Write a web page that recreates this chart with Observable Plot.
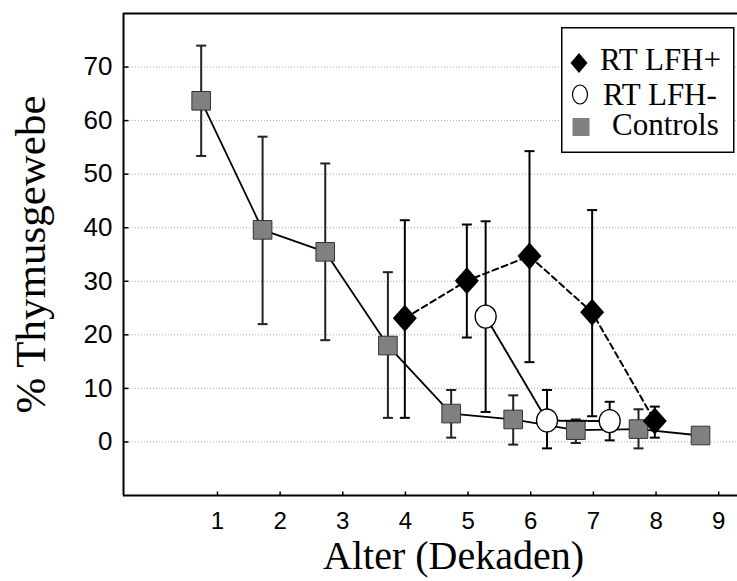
<!DOCTYPE html>
<html><head><meta charset="utf-8">
<script src="https://cdn.jsdelivr.net/npm/d3@7"></script>
<script src="https://cdn.jsdelivr.net/npm/@observablehq/plot@0.6"></script>
<style>
body{margin:0;background:#fff;}
#wrap{position:relative;width:737px;height:581px;overflow:hidden;}
#legend{position:absolute;left:561px;top:27px;}
</style></head><body><div id="wrap"></div>
<script>
// ---- data ----
const xTicks = [1, 2, 3, 4, 5, 6, 7, 8, 9];
const yTicks = [0, 10, 20, 30, 40, 50, 60, 70];
const xDomain = [-0.5, 9.3];
const yDomain = [-10, 80];
const xLabel = "Alter (Dekaden)";
const yLabel = "% Thymusgewebe";
const seriesNames = ["RT LFH+", "RT LFH-", "Controls"];

const ctrlX  = [0.74, 1.72, 2.72, 3.72, 4.73, 5.72, 6.72, 7.72, 8.71];
const ctrlY  = [63.7, 39.6, 35.5, 18.0, 5.3, 4.2, 2.2, 2.4, 1.2];
const ctrlHi = [74.0, 57.0, 52.0, 31.7, 9.7, 8.7, 4.2, 6.1, null];
const ctrlLo = [53.4, 22.0, 19.0, 4.5, 0.8, -0.5, -0.2, -1.2, null];

const plusX  = [3.99, 4.98, 5.98, 6.98, 7.98];
const plusY  = [23.1, 30.1, 34.7, 24.2, 3.9];
const plusHi = [41.4, 40.6, 54.3, 43.3, 6.6];
const plusLo = [4.5, 19.5, 14.9, 4.8, 0.8];

const minusX  = [5.28, 6.26, 7.26];
const minusY  = [23.4, 4.0, 3.9];
const minusHi = [41.2, 9.7, 7.5];
const minusLo = [5.6, -1.2, 0.3];

// ---- build ----
const rows = (name, xs, ys, lo, hi) => xs.map((x, i) => ({series: name, x, y: ys[i], lo: lo[i], hi: hi[i]}));
const plus = rows(seriesNames[0], plusX, plusY, plusLo, plusHi);
const minus = rows(seriesNames[1], minusX, minusY, minusLo, minusHi);
const ctrl = rows(seriesNames[2], ctrlX, ctrlY, ctrlLo, ctrlHi);
const withErr = d => d.filter(r => r.hi != null);

const capSym = {draw(c) { c.moveTo(-5, 0); c.lineTo(5, 0); }};
const tickUp = {draw(c) { c.moveTo(0, 0); c.lineTo(0, -4); }};
const tickRight = {draw(c) { c.moveTo(0, 0); c.lineTo(5, 0); }};
const diamond = {draw(c) { c.moveTo(0, -13.5); c.lineTo(12, 0); c.lineTo(0, 13.5); c.lineTo(-12, 0); c.closePath(); }};
const ellipse = {draw(c) {
  const rx = 10.5, ry = 11.5, k = 0.5523;
  c.moveTo(rx, 0);
  c.bezierCurveTo(rx, ry * k, rx * k, ry, 0, ry);
  c.bezierCurveTo(-rx * k, ry, -rx, ry * k, -rx, 0);
  c.bezierCurveTo(-rx, -ry * k, -rx * k, -ry, 0, -ry);
  c.bezierCurveTo(rx * k, -ry, rx, -ry * k, rx, 0);
  c.closePath();
}};

const serif = "'Liberation Serif', 'Times New Roman', serif";
const sans = "'Liberation Sans', Arial, Helvetica, sans-serif";

function errMarks(data, color) {
  const d = withErr(data);
  return [
    Plot.ruleX(d, {x: "x", y1: "lo", y2: "hi", stroke: color, strokeWidth: 2}),
    Plot.dot(d, {x: "x", y: "lo", symbol: capSym, stroke: color, strokeWidth: 2, fill: "none"}),
    Plot.dot(d, {x: "x", y: "hi", symbol: capSym, stroke: color, strokeWidth: 2, fill: "none"})
  ];
}

const chart = Plot.plot({
  width: 737, height: 581,
  marginLeft: 123, marginRight: 0, marginTop: 13, marginBottom: 86,
  style: {background: "#fff", overflow: "visible"},
  x: {domain: xDomain, label: null},
  y: {domain: yDomain, label: null},
  marks: [
    Plot.ruleY(yTicks, {stroke: "#aaa", strokeDasharray: "1,2", strokeWidth: 1}),
    Plot.ruleY(yDomain, {stroke: "#000", strokeWidth: 2}),
    Plot.ruleX([xDomain[0]], {stroke: "#000", strokeWidth: 2}),
    Plot.dot(yTicks, {x: () => xDomain[0], y: d => d, symbol: tickRight, stroke: "#000", strokeWidth: 1.5}),
    Plot.dot(xTicks, {x: d => d, y: () => yDomain[0], symbol: tickUp, stroke: "#000", strokeWidth: 1.5}),
    Plot.axisX(xTicks, {tickSize: 0, tickPadding: 16, fontSize: 24, fontFamily: sans, fill: "#000", label: null}),
    Plot.axisY(yTicks, {tickSize: 0, tickPadding: 11, fontSize: 26, fontFamily: sans, fill: "#000", label: null}),
    // Controls
    Plot.line(ctrl, {x: "x", y: "y", stroke: "#000", strokeWidth: 1.8}),
    ...errMarks(ctrl, "#222"),
    Plot.dot(ctrl, {x: "x", y: "y", symbol: "square", r: 10.5, fill: "#808080", stroke: "#333", strokeWidth: 1}),
    // RT LFH-
    Plot.line(minus, {x: "x", y: "y", stroke: "#000", strokeWidth: 2, strokeDasharray: "1.5,1.5"}),
    ...errMarks(minus, "#000"),
    Plot.dot(minus, {x: "x", y: "y", symbol: ellipse, fill: "#fff", stroke: "#000", strokeWidth: 1.3}),
    // RT LFH+
    Plot.line(plus, {x: "x", y: "y", stroke: "#000", strokeWidth: 2, strokeDasharray: "6,4"}),
    ...errMarks(plus, "#000"),
    Plot.dot(plus, {x: "x", y: "y", symbol: diamond, fill: "#000", stroke: "none"}),
    // axis titles
    Plot.text([xLabel], {text: d => d, frameAnchor: "bottom", textAnchor: "middle", lineAnchor: "middle", dy: 61, dx: 23, fontSize: 40, fontFamily: serif, fill: "#000"}),
    Plot.text([yLabel], {text: d => d, frameAnchor: "left", textAnchor: "middle", lineAnchor: "middle", rotate: -90, dx: -92, fontSize: 43, fontFamily: serif, fill: "#000"})
  ]
});

const wrap = document.getElementById("wrap");
wrap.appendChild(chart);

// ---- legend ----
const legendSymbols = [
  `<path d="M18,26 L26.5,36 L18,46 L9.5,36 Z" fill="#000"/>`,
  `<ellipse cx="19" cy="67.5" rx="7.5" ry="9.5" fill="#fff" stroke="#000" stroke-width="1.2"/>`,
  `<rect x="11.5" y="91" width="17" height="18" fill="#808080"/>`
];
const legendText = [[39, 43], [42, 78], [51, 108]];
const legend = document.createElement("div");
legend.id = "legend";
legend.innerHTML = `<svg width="174" height="126" xmlns="http://www.w3.org/2000/svg">
  <rect x="0.75" y="0.75" width="172" height="124.5" fill="#fff" stroke="#000" stroke-width="1.5"/>
  ${seriesNames.map((n, i) => legendSymbols[i] + `<text x="${legendText[i][0]}" y="${legendText[i][1]}" font-family="${serif.replace(/'/g, "&quot;")}" font-size="31" fill="#000">${n}</text>`).join("")}
</svg>`;
wrap.appendChild(legend);
</script>
</body></html>
